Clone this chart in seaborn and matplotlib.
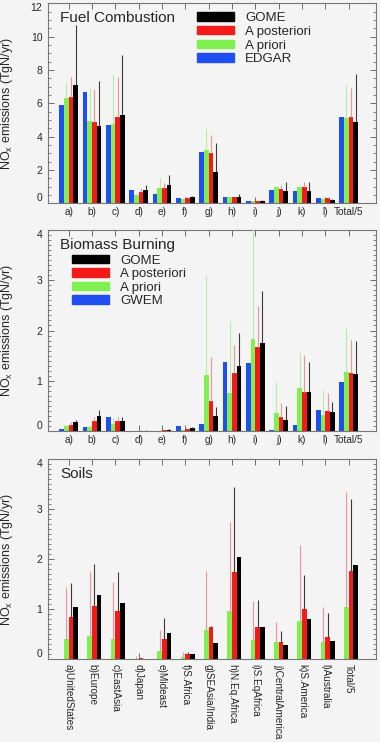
import numpy as np
import pandas as pd
import matplotlib
matplotlib.use("Agg")
import matplotlib.pyplot as plt
import matplotlib.patches as patches
from matplotlib.ticker import MultipleLocator
import seaborn as sns

# region labels
regions = ["a)", "b)", "c)", "d)", "e)", "f)", "g)", "h)", "i)", "j)", "k)", "l)", "Total/5"]
soil_regions = ["a)UnitedStates", "b)Europe", "c)EastAsia", "d)Japan", "e)Mideast", "f)S.Africa",
                "g)SEAsia/India", "h)N.Eq.Africa", "i)S.EqAfrica", "j)CentralAmerica",
                "k)S.America", "l)Australia", "Total/5"]

# Fuel combustion (TgN/yr)
fuel_edgar = [5.9, 6.7, 4.7, 0.8, 0.56, 0.34, 3.1, 0.36, 0.16, 0.8, 0.76, 0.34, 5.2]
fuel_prior = [6.3, 4.95, 4.75, 0.5, 0.9, 0.26, 3.2, 0.36, 0.12, 0.96, 0.96, 0.28, 5.1]
fuel_post = [6.4, 4.9, 5.2, 0.7, 0.94, 0.32, 3.0, 0.36, 0.16, 0.86, 0.96, 0.3, 5.15]
fuel_gome = [7.1, 4.65, 5.3, 0.8, 1.1, 0.4, 1.85, 0.36, 0.16, 0.76, 0.74, 0.2, 4.9]
# upper ends of the error bars
fuel_prior_top = [7.3, 6.9, 7.7, 0.6, 1.5, 0.3, 4.5, 0.4, 0.15, 1.05, 1.1, 0.3, 7.1]
fuel_post_top = [7.6, 6.85, 7.6, 0.9, 1.2, 0.38, 4.1, 0.4, 0.2, 1.1, 1.25, 0.36, 6.9]
fuel_gome_top = [10.7, 7.35, 8.9, 1.1, 1.7, 0.45, 3.6, 0.56, 0.2, 1.3, 1.25, 0.26, 7.75]

# Biomass burning
bb_gwem = [0.04, 0.09, 0.27, 0.0, 0.0, 0.1, 0.14, 1.38, 1.36, 0.02, 0.12, 0.42, 0.98]
bb_prior = [0.1, 0.09, 0.14, 0.0, 0.0, 0.03, 1.12, 0.76, 1.83, 0.35, 0.85, 0.32, 1.18]
bb_post = [0.12, 0.19, 0.19, 0.01, 0.02, 0.05, 0.6, 1.15, 1.68, 0.27, 0.78, 0.39, 1.15]
bb_gome = [0.17, 0.3, 0.2, 0.01, 0.025, 0.07, 0.29, 1.3, 1.76, 0.21, 0.78, 0.37, 1.13]
bb_prior_top = [0.12, 0.12, 0.25, 0.0, 0.0, 0.04, 3.1, 2.18, 4.5, 0.98, 1.55, 0.82, 2.05]
bb_post_top = [0.18, 0.28, 0.27, 0.02, 0.03, 0.07, 1.48, 1.71, 2.48, 0.55, 1.51, 0.75, 1.81]
bb_gome_top = [0.22, 0.42, 0.28, 0.02, 0.04, 0.09, 0.47, 1.95, 2.78, 0.49, 1.38, 0.58, 1.8]

# Soils (no inventory series)
soil_prior = [0.41, 0.47, 0.41, 0.0, 0.16, 0.05, 0.59, 0.97, 0.39, 0.34, 0.77, 0.35, 1.05]
soil_post = [0.84, 1.07, 0.96, 0.03, 0.4, 0.11, 0.65, 1.74, 0.64, 0.35, 1.0, 0.45, 1.77]
soil_gome = [1.04, 1.29, 1.12, 0.0, 0.53, 0.11, 0.32, 2.05, 0.65, 0.29, 0.8, 0.37, 1.89]
soil_prior_top = [1.0, 1.4, 1.55, 0.0, 0.35, 0.12, 1.54, 2.8, 1.12, 0.6, 0.97, 0.94, 3.3]
soil_post_top = [1.44, 1.77, 1.55, 0.06, 0.59, 0.14, 1.77, 2.74, 1.17, 0.74, 2.29, 1.05, 3.35]
soil_gome_top = [1.52, 1.9, 1.74, 0.0, 0.83, 0.14, 0.67, 3.44, 1.19, 0.56, 1.69, 0.92, 3.2]

BG = "#f4f4f4"
C_INV, C_PRIOR, C_POST, C_GOME = "#1f4ff0", "#80f050", "#f51a1a", "#000000"
ERR = {"A priori": "#b4eea2", "A posteriori": "#f39494", "GOME": "#3a3a3a"}

sns.set_theme(style="ticks")
plt.rcParams["font.family"] = ["Liberation Sans", "DejaVu Sans"]
plt.rcParams["mathtext.fontset"] = "custom"
plt.rcParams["mathtext.rm"] = "Liberation Sans"
plt.rcParams["axes.facecolor"] = BG
plt.rcParams["figure.facecolor"] = BG


def panel(ax, cats, inv_name, series, tops, ymax, major, minor, title, legend_at=None):
    levels = [inv_name, "A priori", "A posteriori", "GOME"]
    palette = dict(zip(levels, [C_INV, C_PRIOR, C_POST, C_GOME]))
    present = [lev for lev in levels if lev in series]
    df = pd.DataFrame({
        "region": np.tile(cats, len(present)),
        "source": np.repeat(present, len(cats)),
        "value": np.concatenate([series[lev] for lev in present]),
    })
    sns.barplot(data=df, x="region", y="value", hue="source", order=cats,
                hue_order=levels, palette=palette, width=0.8, saturation=1,
                errorbar=None, legend=False, linewidth=0, ax=ax)

    # thin error bars above the bars
    for cont, lev in zip(ax.containers, present):
        if lev not in tops:
            continue
        for bar, top in zip(cont, tops[lev]):
            h = bar.get_height()
            if top > h:
                xc = bar.get_x() + bar.get_width() / 2
                ax.vlines(xc, h, top, color=ERR[lev], lw=0.8, zorder=3)

    ax.set_xlim(-0.89, 13.17)
    ax.set_ylim(0, ymax)
    ax.set_yticks(np.arange(0, ymax + 0.01, major))
    ax.yaxis.set_minor_locator(MultipleLocator(minor))
    ax.set_xlabel("")
    ax.set_ylabel("NO$_{\\mathrm{x}}$ emissions (TgN/yr)", fontsize=9)
    ax.yaxis.set_label_coords(-0.1, 0.5)
    ax.tick_params(axis="both", which="both", direction="in", top=True, right=True,
                   color="#555555")
    ax.tick_params(axis="x", which="minor", top=False, bottom=False)
    ax.tick_params(which="major", length=4, width=0.6)
    ax.tick_params(which="minor", length=2, width=0.5)
    ax.tick_params(axis="y", labelsize=7.5, pad=4)
    ax.tick_params(axis="x", labelsize=7.2, pad=3)
    for s in ax.spines.values():
        s.set_color("#777777")
        s.set_linewidth(0.8)
    yt = ax.yaxis.get_major_ticks()
    yt[0].label1.set_va("bottom")
    yt[-1].label1.set_va("top")

    ax.text(0.037, 0.96, title, transform=ax.transAxes, fontsize=11, ha="left", va="top")

    if legend_at is not None:
        handles = [patches.Patch(color=palette[lev], label=lev) for lev in levels[::-1]]
        ax.legend(handles=handles, loc="upper left", bbox_to_anchor=legend_at,
                  frameon=False, fontsize=9.5, borderpad=0, borderaxespad=0,
                  handlelength=2.8, handleheight=0.6, handletextpad=0.85,
                  labelspacing=0.12)


fig = plt.figure(figsize=(3.8, 7.42), dpi=100)
ax1 = fig.add_axes([0.1263, 0.726, 0.8632, 0.2695])
ax2 = fig.add_axes([0.1263, 0.4191, 0.8632, 0.2709])
ax3 = fig.add_axes([0.1263, 0.1114, 0.8632, 0.27])

panel(ax1, regions, "EDGAR",
      {"EDGAR": fuel_edgar, "A priori": fuel_prior, "A posteriori": fuel_post, "GOME": fuel_gome},
      {"A priori": fuel_prior_top, "A posteriori": fuel_post_top, "GOME": fuel_gome_top},
      12, 2, 0.5, "Fuel Combustion", legend_at=(0.454, 0.955))

panel(ax2, regions, "GWEM",
      {"GWEM": bb_gwem, "A priori": bb_prior, "A posteriori": bb_post, "GOME": bb_gome},
      {"A priori": bb_prior_top, "A posteriori": bb_post_top, "GOME": bb_gome_top},
      4, 1, 0.1, "Biomass Burning", legend_at=(0.073, 0.878))

panel(ax3, soil_regions, "Inventory",
      {"A priori": soil_prior, "A posteriori": soil_post, "GOME": soil_gome},
      {"A priori": soil_prior_top, "A posteriori": soil_post_top, "GOME": soil_gome_top},
      4, 1, 0.1, "Soils")
for lab in ax3.get_xticklabels():
    lab.set_rotation(270)
    lab.set_ha("center")
    lab.set_va("top")

fig.savefig("out.png", dpi=100, facecolor=BG)
